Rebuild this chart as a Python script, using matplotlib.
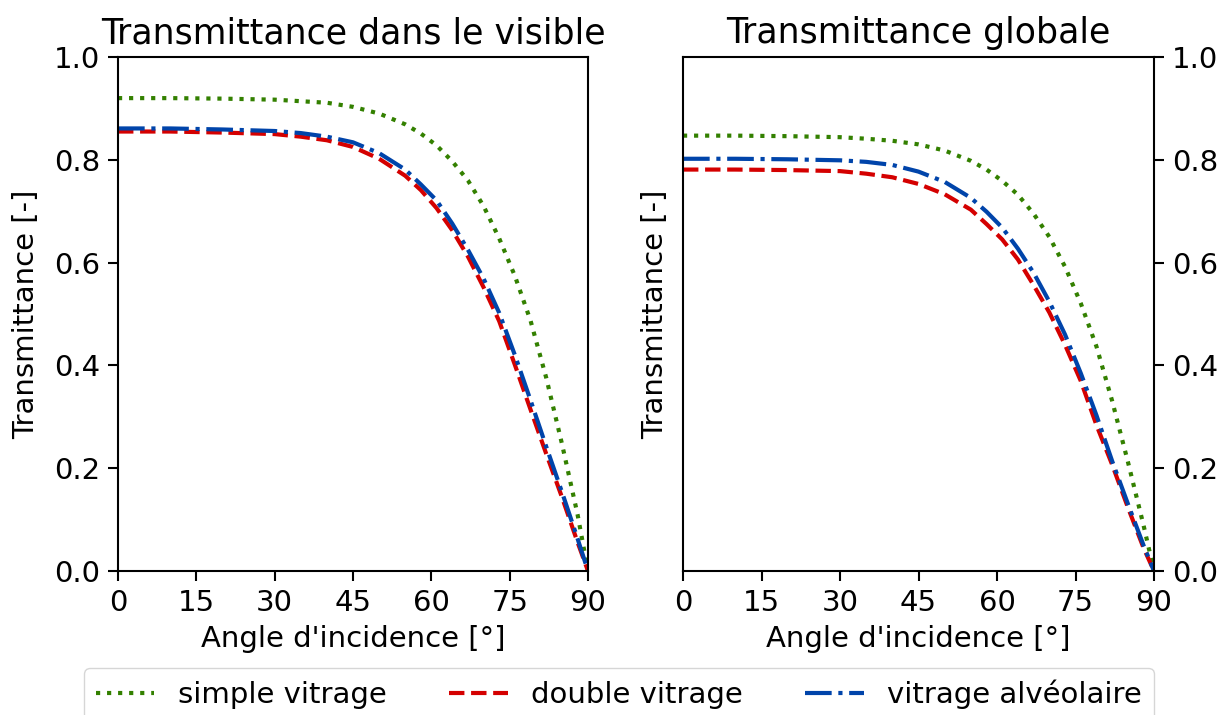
import matplotlib
matplotlib.use("Agg")
import matplotlib.pyplot as plt

angles = [0, 10, 20, 30, 35, 40, 45, 50, 55, 58, 61, 64, 67, 70, 73, 76, 79, 82, 85, 88, 90]

vis_simple = [0.920, 0.920, 0.919, 0.917, 0.914, 0.911, 0.903, 0.890, 0.869, 0.851, 0.828, 0.797, 0.760, 0.710, 0.647, 0.574, 0.487, 0.376, 0.248, 0.110, 0.0]
vis_double = [0.855, 0.855, 0.853, 0.850, 0.845, 0.838, 0.825, 0.802, 0.769, 0.741, 0.706, 0.663, 0.612, 0.552, 0.486, 0.401, 0.314, 0.228, 0.144, 0.056, 0.0]
vis_alveo = [0.861, 0.861, 0.859, 0.856, 0.852, 0.845, 0.834, 0.813, 0.781, 0.752, 0.721, 0.676, 0.625, 0.569, 0.502, 0.420, 0.332, 0.242, 0.154, 0.063, 0.0]

glob_simple = [0.847, 0.847, 0.846, 0.844, 0.841, 0.837, 0.830, 0.818, 0.798, 0.781, 0.759, 0.732, 0.695, 0.650, 0.592, 0.521, 0.437, 0.331, 0.213, 0.089, 0.0]
glob_double = [0.781, 0.781, 0.780, 0.778, 0.773, 0.766, 0.753, 0.733, 0.703, 0.675, 0.645, 0.606, 0.556, 0.503, 0.440, 0.370, 0.284, 0.207, 0.124, 0.045, 0.0]
glob_alveo = [0.802, 0.802, 0.801, 0.799, 0.796, 0.790, 0.777, 0.757, 0.726, 0.699, 0.668, 0.627, 0.580, 0.524, 0.460, 0.385, 0.303, 0.214, 0.131, 0.050, 0.0]

titles = ["Transmittance dans le visible", "Transmittance globale"]
labels = ["simple vitrage", "double vitrage", "vitrage alvéolaire"]
xticks = [0, 15, 30, 45, 60, 75, 90]
yticks = [0.0, 0.2, 0.4, 0.6, 0.8, 1.0]

colors = ["#338000", "#d40000", "#0044aa"]
styles = [":", "--", "-."]

fig = plt.figure(figsize=(12.28, 7.15), dpi=100)
W, H = 1228, 715
ax1 = fig.add_axes([118 / W, 1 - 571 / H, 470 / W, 514 / H])
ax2 = fig.add_axes([683 / W, 1 - 571 / H, 471 / W, 514 / H])

fs = 21
fs_title = 25

handles = []
for ax, data, title in [(ax1, [vis_simple, vis_double, vis_alveo], titles[0]),
                        (ax2, [glob_simple, glob_double, glob_alveo], titles[1])]:
    hs = []
    for y, c, ls, lab in zip(data, colors, styles, labels):
        h, = ax.plot(angles, y, color=c, linestyle=ls, linewidth=3, label=lab)
        hs.append(h)
    handles = hs
    ax.set_xlim(0, 90)
    ax.set_ylim(0, 1)
    ax.set_xticks(xticks)
    ax.set_yticks(yticks)
    ax.tick_params(labelsize=fs, length=7, width=1.5, pad=6)
    ax.set_title(title, fontsize=fs_title, pad=10)
    ax.set_xlabel("Angle d'incidence [°]", fontsize=fs, labelpad=6)
    ax.set_ylabel("Transmittance [-]", fontsize=fs, labelpad=10)
    for s in ax.spines.values():
        s.set_linewidth(1.5)

ax2.yaxis.tick_right()
ax2.yaxis.set_label_position("left")
ax2.tick_params(axis="y", left=False, labelleft=False, right=True, labelright=True)

fig.legend(handles, labels, loc="upper center", ncol=3, borderaxespad=0,
           columnspacing=2.15,
           bbox_to_anchor=(619 / W, 1 - 668 / H), fontsize=fs)

fig.savefig("out.png", dpi=100)
